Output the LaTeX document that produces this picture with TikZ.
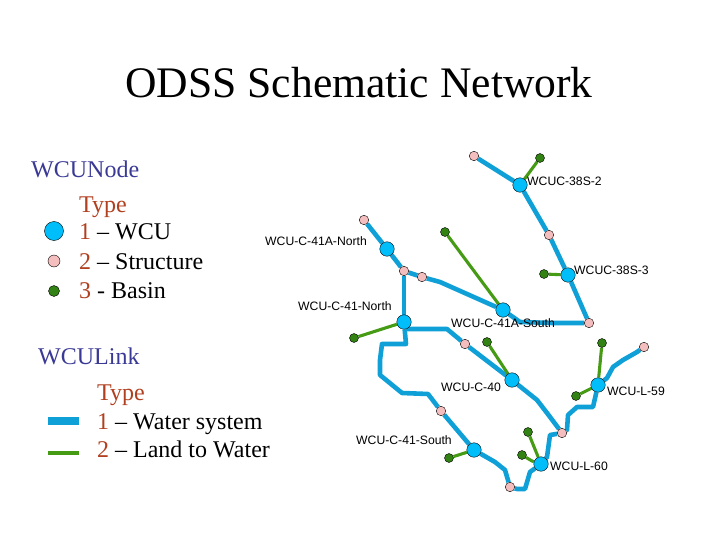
\documentclass[tikz,border=0pt]{standalone}
\usepackage{fontspec}
\setmainfont{Liberation Serif}
\newfontfamily\labelfont{Liberation Sans}
\usetikzlibrary{backgrounds}
\definecolor{headblue}{RGB}{58,58,150}
\definecolor{typered}{RGB}{176,64,32}
\definecolor{wateredge}{RGB}{16,160,216}
\definecolor{wcufill}{RGB}{0,190,250}
\definecolor{structfill}{RGB}{245,190,190}
\definecolor{basinfill}{RGB}{50,130,20}
\definecolor{landedge}{RGB}{70,155,20}
\tikzset{
wcunode/.style={draw=black,circle,fill=wcufill,minimum size=14.5pt,inner sep=0pt},
structure/.style={draw=black,circle,fill=structfill,minimum size=9.5pt,inner sep=0pt},
basin/.style={draw=black,circle,fill=basinfill,minimum size=9pt,inner sep=0pt},
waterlink/.style={draw=wateredge,line width=4.6pt,line join=round},
landlink/.style={draw=landedge,line width=3.1pt},
maplabel/.style={anchor=base west,inner sep=0pt,font=\labelfont\fontsize{12.2}{14}\selectfont},
legendtext/.style={anchor=base west,inner sep=0pt,font=\fontsize{24}{28}\selectfont},
headtext/.style={legendtext,text=headblue},
typetext/.style={legendtext,text=typered}
}
\newcommand{\typenum}[1]{\textcolor{typered}{#1}}
\begin{document}
\begin{tikzpicture}[x=1pt,y=-1pt]
\useasboundingbox (0,0) rectangle (720,540);
\node[anchor=base,inner sep=0pt,font=\fontsize{43.6}{50}\selectfont](title) at (359,98){ODSS Schematic Network};
% legend
\node[headtext](nodehead) at (31,178){WCUNode};
\node[typetext](nodetype) at (79,212){Type};
\node[legendtext](wcutext) at (79,240){\typenum{1} -- WCU};
\node[legendtext](structtext) at (79,269){\typenum{2} -- Structure};
\node[legendtext](basintext) at (79,298){\typenum{3} - Basin};
\node[wcunode,minimum size=19pt](legwcu) at (54,231){};
\node[structure,minimum size=12pt](legstruct) at (54,261){};
\node[basin,minimum size=11pt](legbasin) at (54,291){};
\node[headtext](linkhead) at (38,364){WCULink};
\node[typetext](linktype) at (97,400){Type};
\node[legendtext](watertext) at (97,429){\typenum{1} -- Water system};
\node[legendtext](landtext) at (97,457){\typenum{2} -- Land to Water};
\coordinate(legw1) at (48,421);\coordinate(legw2) at (79,421);
\coordinate(legl1) at (48,453);\coordinate(legl2) at (79,453);
\draw[draw=wateredge,line width=7.5pt](legw1)--(legw2);
\draw[draw=landedge,line width=4.5pt](legl1)--(legl2);
% wcu nodes
\node[wcunode](ctwo) at (520,185){};
\node[wcunode](cthree) at (568,275){};
\node[wcunode](anorth) at (387,249){};
\node[wcunode](asouth) at (503,310){};
\node[wcunode](cnorth) at (404,322){};
\node[wcunode](cforty) at (512,380){};
\node[wcunode](lfiftynine) at (598,385){};
\node[wcunode](csouth) at (474,450){};
\node[wcunode](lsixty) at (541,464){};
% structures
\node[structure](sa) at (474,156){};
\node[structure](sb) at (549,235){};
\node[structure](sc) at (364,220){};
\node[structure](sd) at (404,271){};
\node[structure](se) at (422,277){};
\node[structure](sf) at (589,323){};
\node[structure](sg) at (465,344){};
\node[structure](sh) at (644,347){};
\node[structure](si) at (562,433){};
\node[structure](sj) at (441,411){};
\node[structure](sk) at (510,487){};
% basins
\node[basin](ba) at (540,158){};
\node[basin](bb) at (445,232){};
\node[basin](bc) at (544,274){};
\node[basin](bd) at (354,338){};
\node[basin](be) at (487,342){};
\node[basin](bf) at (602,343){};
\node[basin](bg) at (576,396){};
\node[basin](bh) at (528,432){};
\node[basin](bi) at (522,455){};
\node[basin](bj) at (449,458){};
% labels
\node[maplabel](lbla) at (527,186){WCUC-38S-2};
\node[maplabel](lblb) at (574,274){WCUC-38S-3};
\node[maplabel](lblc) at (265,245){WCU-C-41A-North};
\node[maplabel](lbld) at (298,310){WCU-C-41-North};
\node[maplabel](lble) at (451,327){WCU-C-41A-South};
\node[maplabel](lblf) at (441,391){WCU-C-40};
\node[maplabel](lblg) at (607,395){WCU-L-59};
\node[maplabel](lblh) at (356,444){WCU-C-41-South};
\node[maplabel](lbli) at (550,470){WCU-L-60};
% links
\begin{scope}[on background layer]
\draw[waterlink](sa)--(ctwo);\draw[waterlink](ctwo)--(sb);\draw[waterlink](sb)--(cthree);\draw[waterlink](cthree)--(sf);
\draw[waterlink](sf)--(553,323)--(520,322)--(asouth);
\draw[waterlink](asouth)--(440,282)--(se);\draw[waterlink](se)--(sd);
\draw[waterlink](sd)--(anorth);\draw[waterlink](anorth)--(sc);\draw[waterlink](sd)--(cnorth);
\draw[waterlink](cnorth)--(407,329)--(447,329)--(sg);\draw[waterlink](sg)--(cforty);
\draw[waterlink](cforty)--(537,400)--(547,413)--(si);
\draw[waterlink](cnorth)--(406,344)--(382,344)--(380,360)--(380,375)--(402,393)--(428,394)--(sj);
\draw[waterlink](sj)--(csouth);\draw[waterlink](csouth)--(495,462)--(505,470)--(sk);
\draw[waterlink](sk)--(517,489)--(525,489)--(530,472)--(lsixty);
\draw[waterlink](lsixty)--(547,457)--(550,435)--(si);
\draw[waterlink](si)--(567,430)--(568,415)--(577,407)--(593,407)--(lfiftynine);
\draw[waterlink](lfiftynine)--(607,378)--(613,367)--(623,360)--(637,352)--(sh);
\draw[landlink](ctwo)--(ba);\draw[landlink](cthree)--(bc);\draw[landlink](asouth)--(bb);
\draw[landlink](cnorth)--(bd);\draw[landlink](cforty)--(be);\draw[landlink](lfiftynine)--(bf);
\draw[landlink](lfiftynine)--(bg);\draw[landlink](csouth)--(bj);\draw[landlink](lsixty)--(bh);
\draw[landlink](lsixty)--(532,461)--(bi);
\end{scope}
\end{tikzpicture}
\end{document}
